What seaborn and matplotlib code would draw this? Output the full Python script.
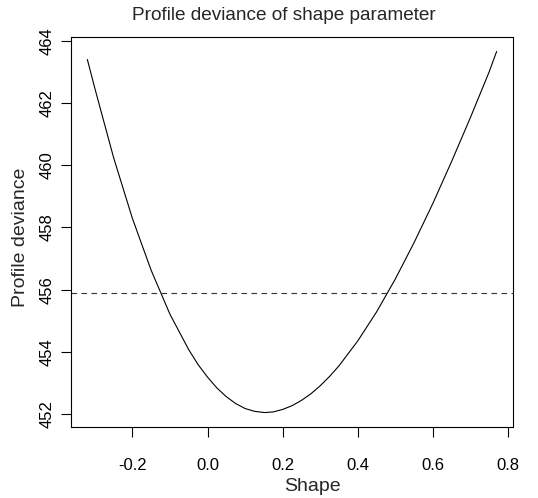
import matplotlib
matplotlib.use("Agg")
import matplotlib.pyplot as plt
import seaborn as sns
import pandas as pd

# Values (profile deviance curve)
shape = [-0.320, -0.300, -0.250, -0.200, -0.150, -0.100, -0.050, -0.025, 0.000, 0.025,
         0.050, 0.075, 0.100, 0.125, 0.152, 0.175, 0.200, 0.225, 0.250, 0.275, 0.300,
         0.325, 0.350, 0.400, 0.450, 0.500, 0.550, 0.600, 0.650, 0.700, 0.750, 0.770]
deviance = [463.40, 462.47, 460.24, 458.29, 456.62, 455.21, 454.07, 453.59, 453.19, 452.84,
            452.56, 452.34, 452.18, 452.09, 452.05, 452.07, 452.15, 452.27, 452.44, 452.65, 452.91,
            453.21, 453.55, 454.35, 455.28, 456.34, 457.51, 458.77, 460.12, 461.53, 463.00, 463.66]
cutoff = 455.88
xticks = [-0.2, 0.0, 0.2, 0.4, 0.6, 0.8]
yticks = [452, 454, 456, 458, 460, 462, 464]

sns.set_style("ticks")
plt.rcParams['font.family'] = ['Liberation Sans', 'DejaVu Sans']

df = pd.DataFrame({"Shape": shape, "Profile deviance": deviance})

fig = plt.figure(figsize=(5.38, 4.98), dpi=100)
ax = fig.add_axes([71/538, 1 - 427/498, (513 - 71)/538, (427 - 37)/498])

sns.lineplot(data=df, x="Shape", y="Profile deviance", ax=ax,
             color="black", linewidth=0.8, estimator=None, sort=False)
ax.axhline(cutoff, color="#333333", linewidth=0.8, linestyle=(0, (5, 4)))

xr = max(shape) - min(shape)
yr = max(deviance) - min(deviance)
ax.set_xlim(min(shape) - 0.04 * xr, max(shape) + 0.04 * xr)
ax.set_ylim(min(deviance) - 0.04 * yr, max(deviance) + 0.04 * yr)

ax.set_xticks(xticks)
ax.set_xticklabels([f"{t:.1f}" for t in xticks])
ax.set_yticks(yticks)
ax.set_yticklabels([str(t) for t in yticks], rotation=90, va="center")

for s in ax.spines.values():
    s.set_visible(True)
    s.set_color("black")
    s.set_linewidth(0.8)

ax.tick_params(axis="both", direction="out", length=7, width=0.8, color="black",
               labelsize=12, labelcolor="black")
ax.tick_params(axis="x", pad=15)
ax.tick_params(axis="y", pad=4.5)

ax.set_xlabel("Shape", fontsize=14)
ax.xaxis.label.set_va("baseline")
ax.xaxis.set_label_coords((312 - 71) / 442, (427 - 491) / 390)
ax.set_ylabel("Profile deviance", fontsize=14)
ax.yaxis.set_label_coords((29 - 71) / 442, (427 - 237) / 390)
ax.set_title("Profile deviance of shape parameter", fontsize=13.7, pad=12,
             x=(284 - 71) / 442)

fig.savefig("out.png", dpi=100)
